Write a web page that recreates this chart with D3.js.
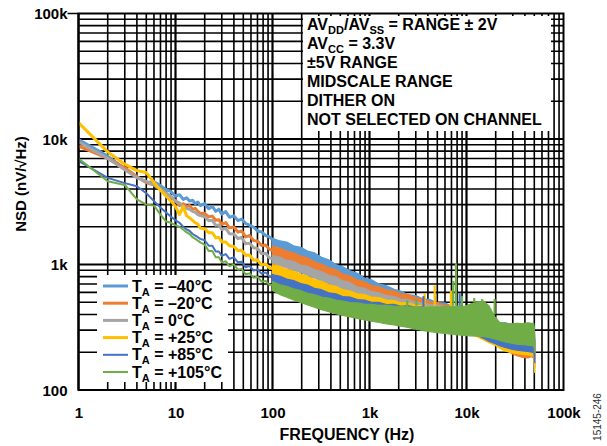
<!DOCTYPE html>
<html><head><meta charset="utf-8">
<script src="https://cdn.jsdelivr.net/npm/d3@7"></script>
<style>
body{margin:0;background:#fff;}
svg{display:block;font-family:"Liberation Sans",Arial,Helvetica,sans-serif;}
</style></head><body>
<svg id="chart" width="607" height="446"></svg>
<script>
// ---------------- DATA ----------------
const seriesTemps = ["–40°C","–20°C","0°C","+25°C","+85°C","+105°C"];
const xTicks = [1,10,100,1000,10000,100000];
const xTickLabels = ["1","10","100","1k","10k","100k"];
const yTicks = [100,1000,10000,100000];
const yTickLabels = ["100","1k","10k","100k"];
const notes = ["AV|DD|/AV|SS| = RANGE ± 2V","AV|CC| = 3.3V","±5V RANGE","MIDSCALE RANGE","DITHER ON","NOT SELECTED ON CHANNEL"];

// low-frequency part (Hz) — NSD in nV/√Hz
const lowF = [1,2,3,4,5,6,7,8,9,10,11,12,13,14,15,16,17,18,20,22,24,26,28,30,33,36,40,44,48,53,58,64,70,77,85,93,100];
const low_m40 = [9900,7300,5800,5000,4500,4550,4250,3950,3800,3500,3600,3300,3400,3200,3250,3050,3150,2950,3050,2780,2900,2650,2760,2520,2640,2380,2440,2240,2300,2120,2060,1980,1850,1820,1700,1660,1580];
const low_m20 = [8800,7000,5900,5000,4500,4300,4000,3700,3450,3200,2950,3050,2900,2950,2750,2800,2650,2550,2560,2400,2430,2250,2270,2090,2160,1960,1990,1810,1850,1660,1700,1550,1540,1420,1430,1320,1300];
const low_0 = [9500,7000,5700,4900,4600,4300,4000,3700,3500,3200,3100,2900,2800,2750,2650,2600,2500,2450,2400,2230,2250,2050,2060,1900,1940,1760,1750,1610,1640,1460,1480,1360,1340,1220,1230,1130,1110];
const low_p25 = [13500,7900,6300,5600,5400,4500,3900,3500,3200,2900,2500,2900,2450,2350,2250,2150,2100,1950,1930,1790,1790,1630,1650,1510,1510,1410,1390,1290,1300,1180,1190,1080,1090,990,1010,940,930];
const low_p85 = [6700,4900,4450,4200,3700,3200,2850,2600,2400,2250,2150,2000,1900,1850,1750,1700,1650,1600,1560,1410,1410,1270,1270,1170,1210,1110,1140,1040,1050,950,975,895,915,845,865,805,800];
const low_p105 = [7000,4600,4300,3300,3000,2950,2500,2200,2150,2050,2000,1900,1800,1750,1650,1600,1550,1500,1440,1280,1280,1140,1140,1040,1060,970,1000,910,920,835,850,785,800,730,740,685,690];

// dense part: upper / lower envelope of each noisy trace
const bandF = [100,120,140,165,195,230,270,320,380,450,530,630,750,890,1050,1250,1500,1800,2100,2500,3000,3500,4200,5000,6000,7000,8200,9500,11000,13000,15000,17000,19500,22000,25000,29000,33000,38000,43000,47000,49500,50500];
const hi_m40 = [1620,1540,1510,1410,1370,1280,1240,1140,1090,1000,960,890,850,780,755,700,675,635,615,575,565,535,525,495,495,465,465,435,425,395,385,365,360,340,345,332,335,325,330,320,322,250];
const lo_m40 = [1420,1360,1300,1240,1180,1120,1060,1000,940,880,830,780,720,680,640,600,570,540,510,480,450,430,410,390,370,360,340,330,310,300,285,275,265,255,250,240,235,230,225,220,215,165];
const hi_m20 = [1400,1350,1280,1240,1170,1130,1050,1010,940,910,840,810,750,730,680,665,625,615,585,575,545,535,505,500,475,470,445,435,405,395,365,360,340,340,325,330,318,325,316,322,312,240];
const lo_m20 = [1180,1130,1080,1030,980,930,880,830,790,740,700,660,620,590,560,530,500,480,460,440,420,400,380,365,350,335,320,305,290,275,260,245,235,225,212,196,188,182,180,185,178,150];
const hi_0 = [1180,1140,1080,1060,990,970,910,880,820,800,740,720,660,645,610,595,565,555,530,525,500,498,480,478,460,458,440,435,405,395,365,360,340,338,326,330,316,324,316,320,312,240];
const lo_0 = [1020,980,940,900,860,820,780,740,700,660,630,600,565,540,515,490,470,450,440,425,410,395,380,365,350,340,325,310,295,280,265,250,240,230,225,215,210,205,200,198,195,160];
const hi_p25 = [1000,965,915,885,835,805,760,735,690,670,630,615,585,575,550,545,520,515,495,495,475,472,458,458,445,443,428,422,402,388,362,352,338,332,322,322,315,318,312,316,308,220];
const lo_p25 = [850,810,775,740,705,670,640,605,575,545,520,495,475,460,445,430,415,400,390,378,365,355,345,335,325,315,305,295,280,265,250,238,228,215,205,198,195,192,190,188,185,138];
const hi_p85 = [830,805,765,745,705,685,645,630,595,585,555,550,525,520,500,500,480,482,465,470,455,460,448,455,443,450,436,435,416,408,380,368,345,343,330,335,326,333,326,332,322,240];
const lo_p85 = [720,690,660,630,600,575,550,525,505,485,465,450,435,420,410,400,390,380,372,365,355,345,338,330,322,315,305,295,285,272,258,245,235,225,218,212,208,205,203,200,198,165];
const hi_p105 = [730,690,670,640,620,590,575,550,540,520,512,498,494,483,482,472,472,464,465,458,460,455,460,457,462,460,466,462,485,500,510,470,385,345,340,336,340,338,343,340,338,270];
const lo_p105 = [620,575,550,522,498,476,456,436,420,405,393,382,372,362,353,345,337,330,322,315,306,298,292,287,282,278,275,272,270,268,266,262,255,248,242,236,232,230,228,226,222,200];

// narrow spurs: series index, frequency, base and peak value
const spurSeries = [5,1,5,3,4,3,2,3,5,5,4,5,5,5,5];
const spurF = [2450,2950,3050,3700,3600,4700,4750,6900,7300,7800,8500,9000,12000,14500,19500];
const spurBase = [460,480,470,480,460,470,480,460,470,470,460,470,500,500,400];
const spurPeak = [520,540,530,590,560,680,560,620,740,1020,590,560,540,530,530];

// ---------------- STYLE ----------------
const colors = ["#5b9bd5","#ed7d31","#a5a5a5","#ffc000","#4472c4","#70ad47"];
const lineW = [3,3,3,3,2,2];

const lows = [low_m40,low_m20,low_0,low_p25,low_p85,low_p105];
const his = [hi_m40,hi_m20,hi_0,hi_p25,hi_p85,hi_p105];
const los = [lo_m40,lo_m20,lo_0,lo_p25,lo_p85,lo_p105];

const m = {l:78.5, r:563.5, t:13.5, b:390};
const x = d3.scaleLog().domain([1,100000]).range([m.l,m.r]);
const y = d3.scaleLog().domain([100,100000]).range([m.b,m.t]);
const svg = d3.select("#chart");

svg.append("defs").append("clipPath").attr("id","clip")
  .append("rect").attr("x",m.l).attr("y",m.t).attr("width",m.r-m.l).attr("height",m.b-m.t);

// grid
const xGrid = [], yGrid = [];
for (let e=0;e<5;e++) for (let k=1;k<=9;k++) xGrid.push(k*Math.pow(10,e));
for (let e=2;e<5;e++) for (let k=1;k<=9;k++) yGrid.push(k*Math.pow(10,e));
const isMajor = v => Math.abs(Math.log10(v)-Math.round(Math.log10(v)))<1e-9;
const g = svg.append("g");
g.selectAll(".vx").data(xGrid).join("line")
  .attr("x1",d=>x(d)).attr("x2",d=>x(d)).attr("y1",m.t).attr("y2",m.b)
  .attr("stroke","#000").attr("stroke-width",d=>isMajor(d)?2.2:1.6);
g.selectAll(".hy").data(yGrid).join("line")
  .attr("y1",d=>y(d)).attr("y2",d=>y(d)).attr("x1",m.l).attr("x2",m.r)
  .attr("stroke","#000").attr("stroke-width",d=>isMajor(d)?2.2:1.6);

// data
const plot = svg.append("g").attr("clip-path","url(#clip)");
const line = d3.line().x(d=>x(d[0])).y(d=>y(d[1]));
const area = d3.area().x(d=>x(d[0])).y0(d=>y(d[2])).y1(d=>y(d[1]));
for (let i=0;i<6;i++){
  const band = bandF.map((f,j)=>[f,his[i][j],los[i][j]]);
  plot.append("path").datum(band).attr("d",area)
    .attr("fill",colors[i]).attr("stroke",colors[i]).attr("stroke-width",1.2).attr("stroke-linejoin","round");
  plot.append("path").datum(lowF.map((f,j)=>[f,lows[i][j]])).attr("d",line)
    .attr("fill","none").attr("stroke",colors[i]).attr("stroke-width",lineW[i]).attr("stroke-linejoin","round");
  spurF.forEach((f,k)=>{
    if (spurSeries[k]!==i) return;
    plot.append("line").attr("x1",x(f)).attr("x2",x(f)).attr("y1",y(spurBase[k])).attr("y2",y(spurPeak[k]))
      .attr("stroke",colors[i]).attr("stroke-width",2.2);
  });
}

// border
svg.append("rect").attr("x",m.l).attr("y",m.t).attr("width",m.r-m.l).attr("height",m.b-m.t)
  .attr("fill","none").attr("stroke","#000").attr("stroke-width",2);
svg.append("line").attr("x1",m.l-11).attr("x2",m.l).attr("y1",m.t).attr("y2",m.t).attr("stroke","#000").attr("stroke-width",1.5);

// axes labels
const xa = svg.append("g").attr("transform",`translate(0,${m.b})`)
  .call(d3.axisBottom(x).tickValues(xTicks).tickFormat((d,i)=>xTickLabels[i]).tickSize(0).tickPadding(17));
xa.select(".domain").remove();
xa.selectAll("text").attr("font-size",15).attr("font-weight","bold").attr("fill","#000")
  .attr("font-family","'Liberation Sans',Arial,sans-serif");
const ya = svg.append("g").attr("transform",`translate(${m.l},0)`)
  .call(d3.axisLeft(y).tickValues(yTicks).tickFormat((d,i)=>yTickLabels[i]).tickSize(0).tickPadding(11));
ya.select(".domain").remove();
ya.selectAll("text").attr("font-size",15).attr("font-weight","bold").attr("fill","#000")
  .attr("font-family","'Liberation Sans',Arial,sans-serif").attr("dy","0.36em");

svg.append("text").attr("x",347).attr("y",440).attr("text-anchor","middle")
  .attr("font-size",16).attr("font-weight","bold").text("FREQUENCY (Hz)");
svg.append("text").attr("transform","translate(26,184) rotate(-90)").attr("text-anchor","middle")
  .attr("font-size",15).attr("font-weight","bold").text("NSD (nV/√Hz)");
svg.append("text").attr("transform","translate(601,417) rotate(-90)").attr("text-anchor","middle")
  .attr("font-size",10).attr("fill","#333").text("15145-246");

// annotation box
svg.append("rect").attr("x",303).attr("y",16).attr("width",248).attr("height",115).attr("fill","#fff");
notes.forEach((s,i)=>{
  const t = svg.append("text").attr("x",307).attr("y",30+19*i).attr("font-size",16).attr("font-weight","bold");
  s.split("|").forEach((part,k)=>{
    if (!part) return;
    if (k%2===1) t.append("tspan").attr("font-size",11).attr("dy",4).text(part);
    else t.append("tspan").attr("dy",k>0?-4:0).text(part);
  });
});

// legend
svg.append("rect").attr("x",97).attr("y",275).attr("width",131).attr("height",107).attr("fill","#fff");
seriesTemps.forEach((s,i)=>{
  const yy = 286 + 17.2*i;
  svg.append("line").attr("x1",103).attr("x2",128).attr("y1",yy).attr("y2",yy)
    .attr("stroke",colors[i]).attr("stroke-width",lineW[i]);
  const t = svg.append("text").attr("x",132).attr("y",yy+5.5).attr("font-size",16).attr("font-weight","bold");
  t.append("tspan").text("T");
  t.append("tspan").attr("font-size",11).attr("dy",4).text("A");
  t.append("tspan").attr("dy",-4).text(" = "+s);
});
</script>
</body></html>
